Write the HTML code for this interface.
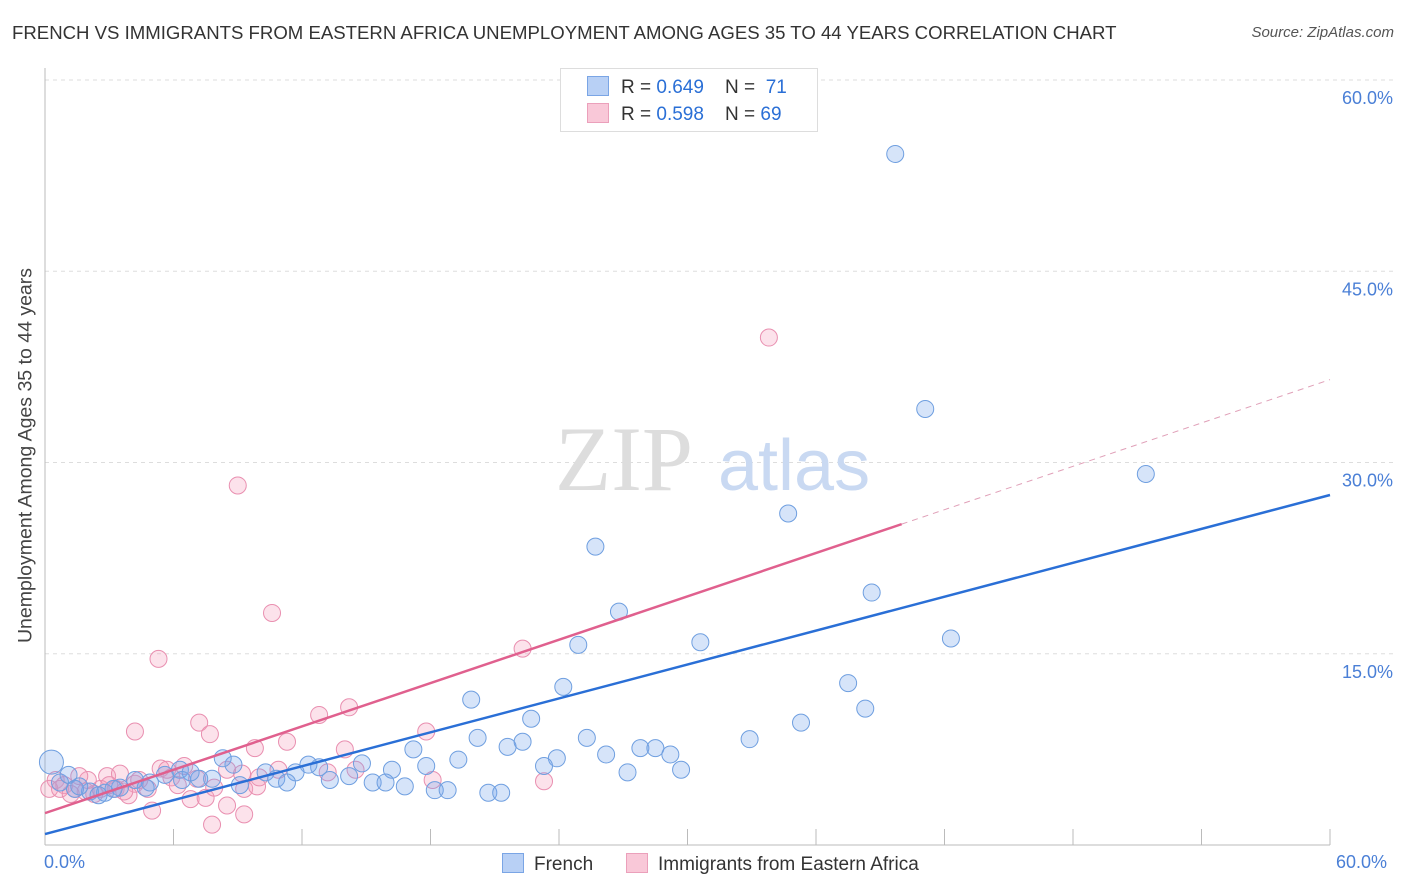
<!DOCTYPE html>
<html><head><meta charset="utf-8"><style>
body{margin:0;background:#fff;font-family:"Liberation Sans",sans-serif;}
#wrap{position:relative;width:1406px;height:892px;overflow:hidden}
.t{position:absolute;white-space:nowrap}
</style></head><body><div id="wrap">
<div class="t" style="left:12px;top:22px;font-size:18.6px;color:#333">FRENCH VS IMMIGRANTS FROM EASTERN AFRICA UNEMPLOYMENT AMONG AGES 35 TO 44 YEARS CORRELATION CHART</div>
<div class="t" style="right:12px;top:24px;font-size:15px;color:#555;font-style:italic">Source: ZipAtlas.com</div>
<svg id="svg" width="1406" height="892" style="position:absolute;left:0;top:0"></svg>
</div>
<script>
const yTicks=[15,30,45,60];
const yTickLabels=["15.0%","30.0%","45.0%","60.0%"];
const frenchX=[39.7,41.1,51.4,34.7,25.7,38.6,26.8,42.3,30.6,24.9,37.5,38.3,24.2,19.9,35.3,22.7,32.9,25.3,21.6,22.3,27.8,28.5,29.2,26.2,23.9,23.3,27.2,29.7,19.3,17.2,17.8,20.2,14.8,16.2,12.8,12.3,11.7,10.3,8.8,8.3,10.8,11.3,13.3,14.2,15.3,15.9,16.8,18.2,18.8,20.7,21.3,7.8,7.2,6.3,5.6,4.9,4.2,3.5,2.8,2.1,1.4,0.7,0.3,1.1,9.1,6.4,3.2,2.5,1.6,4.7,6.8];
const frenchY=[54.2,34.2,29.1,26.0,23.4,19.8,18.3,16.2,15.9,15.7,12.7,10.7,12.4,11.4,9.6,9.9,8.3,8.4,7.7,8.1,7.6,7.6,7.1,7.1,6.8,6.2,5.7,5.9,6.7,7.5,6.2,8.4,6.4,5.9,6.1,6.3,5.7,5.7,6.3,6.8,5.2,4.9,5.1,5.4,4.9,4.9,4.6,4.3,4.3,4.1,4.1,5.2,5.2,5.9,5.5,4.9,5.1,4.5,4.1,4.2,4.4,4.9,6.5,5.5,4.7,5.1,4.4,3.9,4.6,4.5,5.7];
const immX=[33.8,9.0,10.6,5.3,22.3,14.2,12.8,4.2,7.2,7.7,17.8,9.8,11.3,14.0,8.5,5.4,6.5,5.9,2.9,3.5,4.2,4.8,0.5,0.9,1.4,1.9,2.3,0.2,3.3,3.9,6.8,7.5,7.9,9.3,9.9,13.2,14.5,18.1,23.3,5.0,7.8,8.5,9.3,5.7,2.6,4.4,6.2,7.1,2.0,0.7,1.2,3.7,9.2,10.0,10.9,3.0,1.6];
const immY=[39.8,28.2,18.2,14.6,15.4,10.8,10.2,8.9,9.6,8.7,8.9,7.6,8.1,7.5,5.9,6.0,6.2,5.3,5.4,5.6,4.8,4.4,5.1,4.7,4.4,4.2,4.0,4.4,4.4,3.9,3.6,3.7,4.5,4.4,4.6,5.7,5.9,5.1,5.0,2.7,1.6,3.1,2.4,5.9,4.4,5.1,4.7,5.2,5.1,4.4,4.0,4.2,5.6,5.3,5.9,4.7,5.4];
const blueLine=[0.86,27.45];
const pinkLine=[2.5,36.5];
const X0=45,X1=1330,YB=845,YT=80;
const sx=v=>X0+(X1-X0)*v/60, sy=v=>YB-(YB-YT)*v/60;
const svg=document.getElementById('svg');const NS='http://www.w3.org/2000/svg';
function mk(t,a,p){const e=document.createElementNS(NS,t);for(const k in a)e.setAttribute(k,a[k]);(p||svg).appendChild(e);return e;}
yTicks.forEach((v,i)=>{const g=mk('line',{x1:X0,x2:1395,y1:sy(v),y2:sy(v),stroke:'#ddd','stroke-dasharray':'4,4'});

const t=mk('text',{x:1393,y:sy(v)+24,'text-anchor':'end','font-size':18,fill:'#4a7fd6','font-family':'Liberation Sans'});t.textContent=yTickLabels[i];
});
const ax=mk('line',{x1:X0,x2:X1,y1:YB,y2:YB,stroke:'#bbb'});
const ay=mk('line',{x1:X0,x2:X0,y1:68,y2:YB,stroke:'#bbb'});
for(let i=0;i<=10;i++){const tk=mk('line',{x1:sx(i*6),x2:sx(i*6),y1:YB,y2:YB-16,stroke:'#bbb'});}
const w1=mk('text',{x:555,y:490,'font-size':92,fill:'#ddd','font-family':'Liberation Serif'});w1.textContent='ZIP';
const w2=mk('text',{x:718,y:490,'font-size':72,fill:'#c9d9f2','font-family':'Liberation Sans'});w2.textContent='atlas';
function pts(xs,ys,fill,stroke,name){xs.forEach((x,i)=>{const r=(name==='french-point'&&i===62)?12:8.5;const c=mk('circle',{cx:sx(x),cy:sy(ys[i]),r:r,fill:fill,stroke:stroke,'stroke-width':1});
});}
pts(immX,immY,'rgba(244,160,190,0.3)','#e98fb0','immigrant-point');
pts(frenchX,frenchY,'rgba(120,165,235,0.3)','#6f9fe0','french-point');
const bl=mk('line',{x1:sx(0),y1:sy(blueLine[0]),x2:sx(60),y2:sy(blueLine[1]),stroke:'#2a6fd6','stroke-width':2.5});
const pv=x=>pinkLine[0]+(pinkLine[1]-pinkLine[0])*x/60;
const pl=mk('line',{x1:sx(0),y1:sy(pv(0)),x2:sx(40),y2:sy(pv(40)),stroke:'#e0608e','stroke-width':2.5});
const pd=mk('line',{x1:sx(40),y1:sy(pv(40)),x2:sx(60),y2:sy(pv(60)),stroke:'#e0a0b8','stroke-width':1,'stroke-dasharray':'6,5'});
</script>
<div class="t" style="left:-164px;top:444px;transform:rotate(-90deg);font-size:19.5px;color:#444;width:380px;text-align:center">Unemployment Among Ages 35 to 44 years</div>
<div class="t" style="left:44px;top:852px;font-size:18px;color:#4a7fd6">0.0%</div>
<div class="t" style="left:1336px;top:852px;font-size:18px;color:#4a7fd6">60.0%</div>
<div style="position:absolute;left:560px;top:68px;width:256px;height:62px;border:1px solid #ddd;background:#fff;font-size:19px;color:#333">
<div class="t" style="left:26px;top:7px"><span style="display:inline-block;width:20px;height:18px;background:#b8d0f5;border:1px solid #7aa5e5;vertical-align:-3px;margin-right:12px"></span>R = <span style="color:#2a6fd6">0.649</span>&nbsp;&nbsp;&nbsp; N = &nbsp;<span style="color:#2a6fd6">71</span></div>
<div class="t" style="left:26px;top:34px"><span style="display:inline-block;width:20px;height:18px;background:#f9c8d8;border:1px solid #eba0bb;vertical-align:-3px;margin-right:12px"></span>R = <span style="color:#2a6fd6">0.598</span>&nbsp;&nbsp;&nbsp; N = <span style="color:#2a6fd6">69</span></div>
</div>
<div class="t" style="left:502px;top:853px;font-size:19px;color:#333"><span style="display:inline-block;width:20px;height:18px;background:#b8d0f5;border:1px solid #7aa5e5;vertical-align:-3px;margin-right:10px"></span>French</div>
<div class="t" style="left:626px;top:853px;font-size:19px;color:#333"><span style="display:inline-block;width:20px;height:18px;background:#f9c8d8;border:1px solid #eba0bb;vertical-align:-3px;margin-right:10px"></span>Immigrants from Eastern Africa</div>
</body></html>
